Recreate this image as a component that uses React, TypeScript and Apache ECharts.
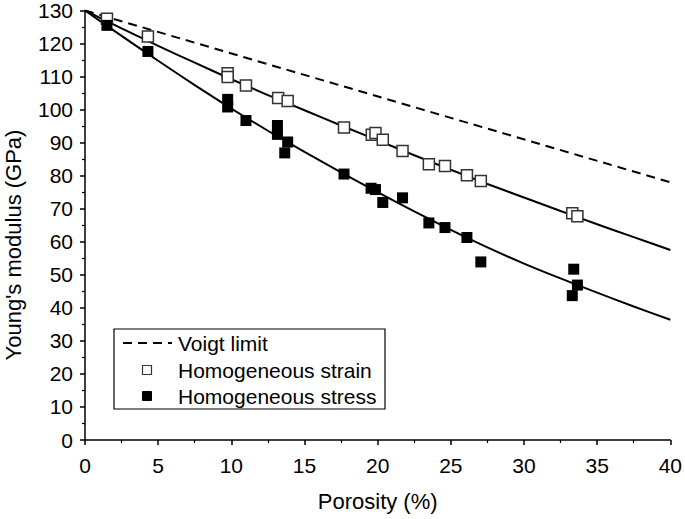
import React, { useEffect, useRef } from "react";
import * as echarts from "echarts";

const xTicks = [0, 5, 10, 15, 20, 25, 30, 35, 40];

const voigtP = [0, 40];
const voigtE = [130, 78];

const curveP = [0, 2.5, 5, 7.5, 10, 12.5, 15, 17.5, 20, 22.5, 25, 27.5, 30, 32.5, 35, 37.5, 40];
const strainCurveE = [130, 124.6, 119.3, 114.2, 109.2, 104.4, 99.8, 95.2, 90.7, 86.2, 81.8, 77.5, 73.4, 69.3, 65.3, 61.4, 57.5];
const stressCurveE = [130, 122.3, 114.8, 107.4, 100.3, 93.6, 87.2, 81.0, 75.0, 69.2, 63.6, 58.3, 53.4, 48.9, 44.6, 40.4, 36.4];

const strainP = [1.5, 4.3, 9.75, 9.75, 11.0, 13.2, 13.85, 17.7, 19.6, 19.85, 20.35, 21.7, 23.5, 24.6, 26.1, 27.05, 33.3, 33.65];
const strainE = [127.5, 122.1, 111, 109.9, 107.3, 103.5, 102.6, 94.6, 92.4, 92.9, 90.9, 87.5, 83.5, 82.9, 80.1, 78.4, 68.6, 67.7];

const stressP = [1.5, 4.3, 9.75, 9.75, 11.0, 13.15, 13.15, 13.85, 13.65, 17.7, 19.55, 19.85, 20.35, 21.7, 23.5, 24.6, 26.1, 27.05, 33.4, 33.65, 33.3];
const stressE = [125.5, 117.6, 103.1, 100.8, 96.7, 95.2, 92.5, 90.2, 86.9, 80.5, 76.2, 75.8, 71.9, 73.3, 65.7, 64.3, 61.3, 53.9, 51.7, 46.9, 43.7];

const legendNames = ["Voigt limit", "Homogeneous strain", "Homogeneous stress"];

const FONT = "Liberation Sans, Arial, Helvetica, sans-serif";

const zip = (a: number[], b: number[]) => a.map((v, i) => [v, b[i]]);

export default function App() {
  const ref = useRef<HTMLDivElement>(null);
  useEffect(() => {
    if (!ref.current) return;
    const chart = echarts.init(ref.current, undefined, { renderer: "svg" });
    const axisCommon = {
      axisLine: { show: true, onZero: false, lineStyle: { color: "#000", width: 1.5 } },
      axisTick: { show: true, inside: false, length: 5, lineStyle: { color: "#000", width: 1.5 } },
      minorTick: { show: true, splitNumber: 2, length: 3, lineStyle: { color: "#000", width: 1.2 } },
      splitLine: { show: false },
      axisLabel: { color: "#000", fontSize: 21, fontFamily: FONT },
    };
    const legendTop = 329;
    const rowY = [343, 370, 396];
    chart.setOption({
      animation: false,
      backgroundColor: "#fff",
      grid: { left: 85, right: 12, top: 10, bottom: 79, containLabel: false },
      xAxis: {
        type: "value",
        min: xTicks[0],
        max: xTicks[xTicks.length - 1],
        interval: 5,
        name: "Porosity (%)",
        nameLocation: "middle",
        nameGap: 50,
        nameTextStyle: { color: "#000", fontSize: 22, fontFamily: FONT },
        ...axisCommon,
        axisLabel: { ...axisCommon.axisLabel, margin: 15 },
      },
      yAxis: {
        type: "value",
        min: 0,
        max: 130,
        interval: 10,
        ...axisCommon,
        axisLabel: { ...axisCommon.axisLabel, margin: 12 },
      },
      graphic: [
        {
          type: "text",
          x: 13,
          y: 245,
          rotation: Math.PI / 2,
          style: {
            text: "Young's modulus (GPa)",
            fontSize: 22,
            fontFamily: FONT,
            fill: "#000",
            align: "center",
            verticalAlign: "middle",
          },
        },
        {
          type: "rect",
          shape: { x: 114, y: legendTop, width: 271, height: 80 },
          style: { fill: "#fff", stroke: "#000", lineWidth: 1.2 },
          z: 10,
        },
        {
          type: "line",
          shape: { x1: 123, y1: rowY[0], x2: 172, y2: rowY[0] },
          style: { stroke: "#000", lineWidth: 2, lineDash: [9, 6] },
          z: 11,
        },
        {
          type: "rect",
          shape: { x: 142.5, y: rowY[1] - 4.5, width: 9, height: 9 },
          style: { fill: "#fff", stroke: "#333", lineWidth: 1.2 },
          z: 11,
        },
        {
          type: "rect",
          shape: { x: 142.5, y: rowY[2] - 4.5, width: 9, height: 9 },
          style: { fill: "#000", stroke: "#000", lineWidth: 1 },
          z: 11,
        },
        ...legendNames.map((n, i) => ({
          type: "text",
          x: 178,
          y: rowY[i],
          z: 11,
          style: {
            text: n,
            fontSize: 21,
            fontFamily: FONT,
            fill: "#000",
            align: "left",
            verticalAlign: "middle",
          },
        })),
      ],
      series: [
        {
          name: legendNames[0],
          type: "line",
          data: zip(voigtP, voigtE),
          showSymbol: false,
          lineStyle: { color: "#000", width: 2, type: [9, 6] },
          z: 2,
        },
        {
          name: "strain fit",
          type: "line",
          data: zip(curveP, strainCurveE),
          showSymbol: false,
          smooth: 0.2,
          lineStyle: { color: "#000", width: 2 },
          z: 2,
        },
        {
          name: "stress fit",
          type: "line",
          data: zip(curveP, stressCurveE),
          showSymbol: false,
          smooth: 0.2,
          lineStyle: { color: "#000", width: 2 },
          z: 2,
        },
        {
          name: legendNames[1],
          type: "scatter",
          data: zip(strainP, strainE),
          symbol: "rect",
          symbolSize: 11,
          itemStyle: { color: "#fff", borderColor: "#333", borderWidth: 1.5, opacity: 1 },
          z: 3,
        },
        {
          name: legendNames[2],
          type: "scatter",
          data: zip(stressP, stressE),
          symbol: "rect",
          symbolSize: 11,
          itemStyle: { color: "#000", borderColor: "#000", borderWidth: 0, opacity: 1 },
          z: 4,
        },
      ],
    });
    return () => chart.dispose();
  }, []);
  return (
    <div
      ref={ref}
      style={{ position: "absolute", left: 0, top: 0, width: 685, height: 519 }}
    />
  );
}
